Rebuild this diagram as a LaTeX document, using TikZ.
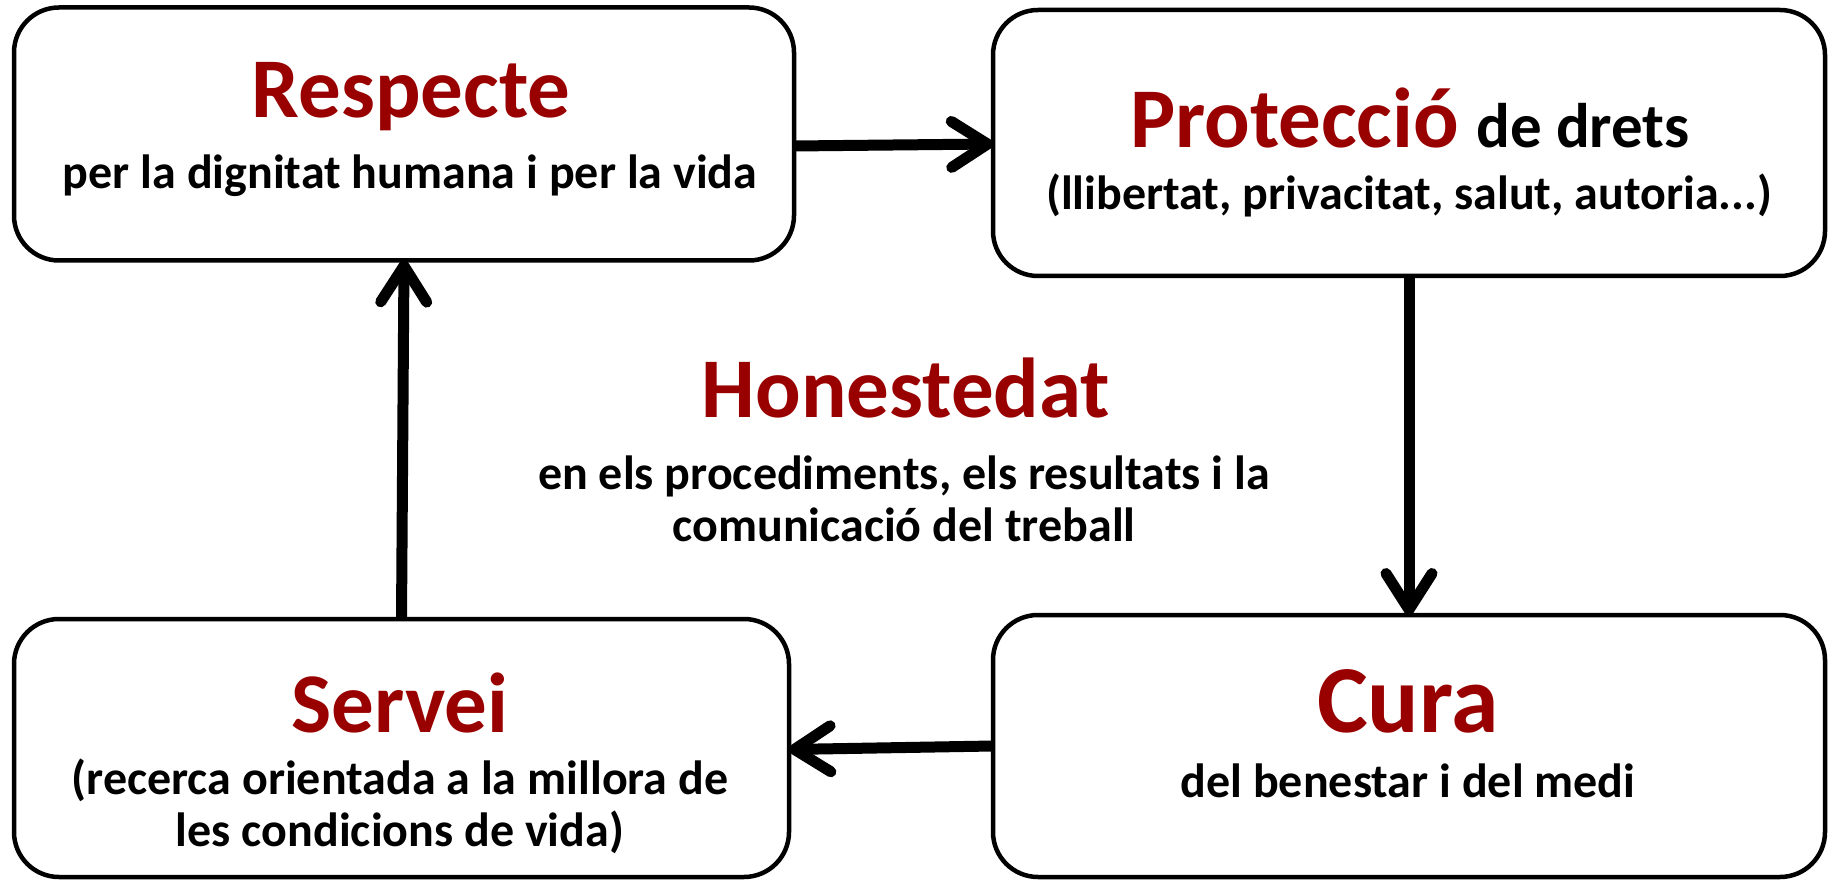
\documentclass[tikz,border=0pt]{standalone}
\usepackage{fontspec}
\setmainfont{Carlito}
\usetikzlibrary{arrows.meta}
\definecolor{dred}{RGB}{153,0,0}
\begin{document}
\begin{tikzpicture}[x=1pt,y=1pt,
  box/.style={draw, line width=4.5pt, rounded corners=45pt, inner sep=0pt, outer sep=0pt},
  ttl/.style={anchor=base, inner sep=0pt, font=\fontsize{85}{90}\selectfont\bfseries, text=dred},
  sub/.style={anchor=base, inner sep=0pt, align=center, font=\fontsize{48}{52}\selectfont\bfseries},
  arr/.style={line width=11pt, -{Straight Barb[length=36pt, width=46pt, line cap=round, line join=round]}}]
\useasboundingbox (0,0) rectangle (1831,879);
% boxes
\node[box, minimum width=780pt, minimum height=253pt] (R) at (404,745) {};
\node[box, minimum width=832pt, minimum height=266pt] (P) at (1409,736) {};
\node[box, minimum width=775pt, minimum height=258pt] (S) at (401.5,131) {};
\node[box, minimum width=832pt, minimum height=262pt] (C) at (1409,133) {};
% texts
\node[ttl] (Rt) at (411,761) {Respecte};
\node[sub] (Rs) at (410,690) {per la dignitat humana i per la vida};
\node[ttl, text=black] (Pt) at (1410,731) {\textcolor{dred}{Protecció}\hspace{-2pt} {\fontsize{63}{64}\selectfont de drets}};
\node[sub] (Ps) at (1409,669) {(llibertat, privacitat, salut, autoria...)};
\node[ttl] (Ht) at (906,461) {Honestedat};
\node[sub] (Hs) at (904,337) {en els procediments, els resultats i la\\comunicació del treball};
\node[ttl] (St) at (400,147) {Servei};
\node[sub] (Ss) at (400,33) {(recerca orientada a la millora de\\les condicions de vida)};
\node[ttl, font=\fontsize{96}{100}\selectfont\bfseries] (Ct) at (1408,147) {Cura};
\node[sub] (Cs) at (1408,82) {del benestar i del medi};
% connectors
\draw[arr] ([yshift=-12pt]R.east) -- ([yshift=-1pt]P.west);
\draw[arr] (P.south) -- (C.north);
\draw[arr] (C.west) -- ([yshift=-1.5pt]S.east);
\draw[arr] (S.north) -- (R.south);
\end{tikzpicture}
\end{document}
